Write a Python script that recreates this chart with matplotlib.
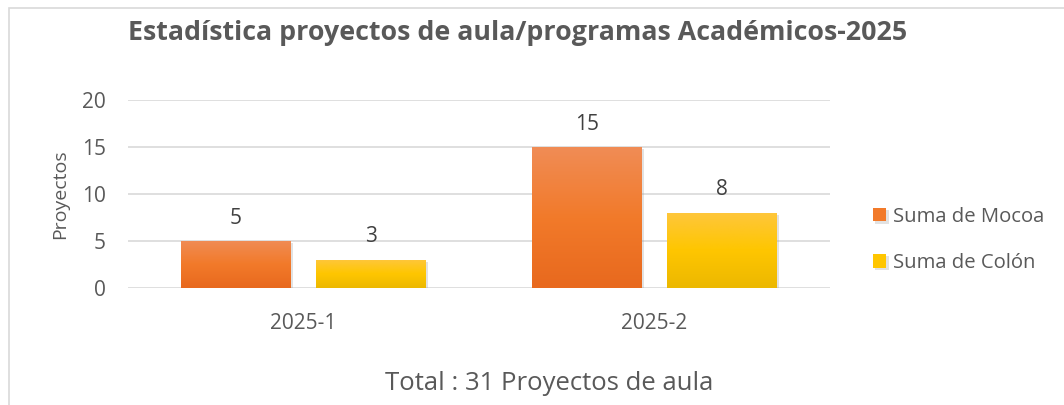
import numpy as np
import matplotlib
matplotlib.use("Agg")
import matplotlib.pyplot as plt
from matplotlib.colors import LinearSegmentedColormap
from matplotlib.patches import Rectangle
import matplotlib.patheffects as pe

# Data
periodos = ["2025-1", "2025-2"]
mocoa = [5, 15]
colon = [3, 8]
series_names = ["Suma de Mocoa", "Suma de Colón"]
titulo = "Estadística proyectos de aula/programas Académicos-2025"
total_txt = "Total : 31 Proyectos de aula"

plt.rcParams['font.family'] = ['Open Sans', 'DejaVu Sans']
gray_txt = '#595959'

fig = plt.figure(figsize=(10.64, 4.05), dpi=100)
ax = fig.add_axes([128 / 1064, 1 - 288 / 405, 702 / 1064, 188 / 405])

# chart border
fig.patches.append(Rectangle((9 / 1064, -0.1), 2, 1 - 7.5 / 405 + 0.1,
                             transform=fig.transFigure, fill=False,
                             edgecolor='#D9D9D9', lw=1.2))

x = np.arange(len(periodos))
w = 0.313
off = 0.192

# gradient colours (top, middle, bottom)
grads = [['#F08C55', '#F27A2A', '#E8691E'],
         ['#FEC63C', '#FFC600', '#ECB800']]

shadow = [pe.SimplePatchShadow(offset=(1.5, -1.5), shadow_rgbFace='#A0A0A0', alpha=0.3), pe.Normal()]

bars_m = ax.bar(x - off, mocoa, w, color=grads[0][1], label=series_names[0], zorder=3,
                path_effects=shadow)
bars_c = ax.bar(x + off, colon, w, color=grads[1][1], label=series_names[1], zorder=3,
                path_effects=shadow)

for bars, g in zip([bars_m, bars_c], grads):
    cmap = LinearSegmentedColormap.from_list('g', g[::-1])
    grad = np.linspace(0, 1, 100).reshape(-1, 1)
    for b in bars:
        im = ax.imshow(grad, cmap=cmap, origin='lower', aspect='auto',
                       extent=(b.get_x(), b.get_x() + b.get_width(), 0, b.get_height()),
                       zorder=4)
        im.set_clip_path(b)
        ax.annotate(str(int(b.get_height())), (b.get_x() + b.get_width() / 2, b.get_height()),
                    xytext=(0, 9), textcoords='offset points', ha='center', va='bottom',
                    fontsize=15, color='#404040')

ax.set_xlim(-0.5, 1.5)
ax.set_ylim(0, 20)
ax.set_yticks([0, 5, 10, 15, 20])
ax.set_xticks(x)
ax.set_xticklabels(periodos)
ax.yaxis.grid(True, color='#D9D9D9', lw=1.2, zorder=0)
ax.set_axisbelow(True)
for s in ax.spines.values():
    s.set_visible(False)
ax.tick_params(axis='both', length=0, labelsize=15, labelcolor=gray_txt)
ax.tick_params(axis='y', pad=16)
ax.tick_params(axis='x', pad=18)
ax.set_ylabel('Proyectos', fontsize=14, color=gray_txt, labelpad=9)

fig.text(518 / 1064, 1 - 33 / 405, titulo, ha='center', va='center',
         fontsize=19.3, fontweight='bold', color=gray_txt)
fig.text(549 / 1064, 1 - 384 / 405, total_txt, ha='center', va='center',
         fontsize=18.5, color=gray_txt)

fig.legend(handles=[bars_m, bars_c], loc='center left', bbox_to_anchor=(855 / 1064, 1 - 240 / 405),
           frameon=False, fontsize=14.6, labelcolor=gray_txt, handlelength=0.65, handleheight=0.65,
           handletextpad=0.3, labelspacing=1.3)

fig.savefig('out.png', dpi=100)
